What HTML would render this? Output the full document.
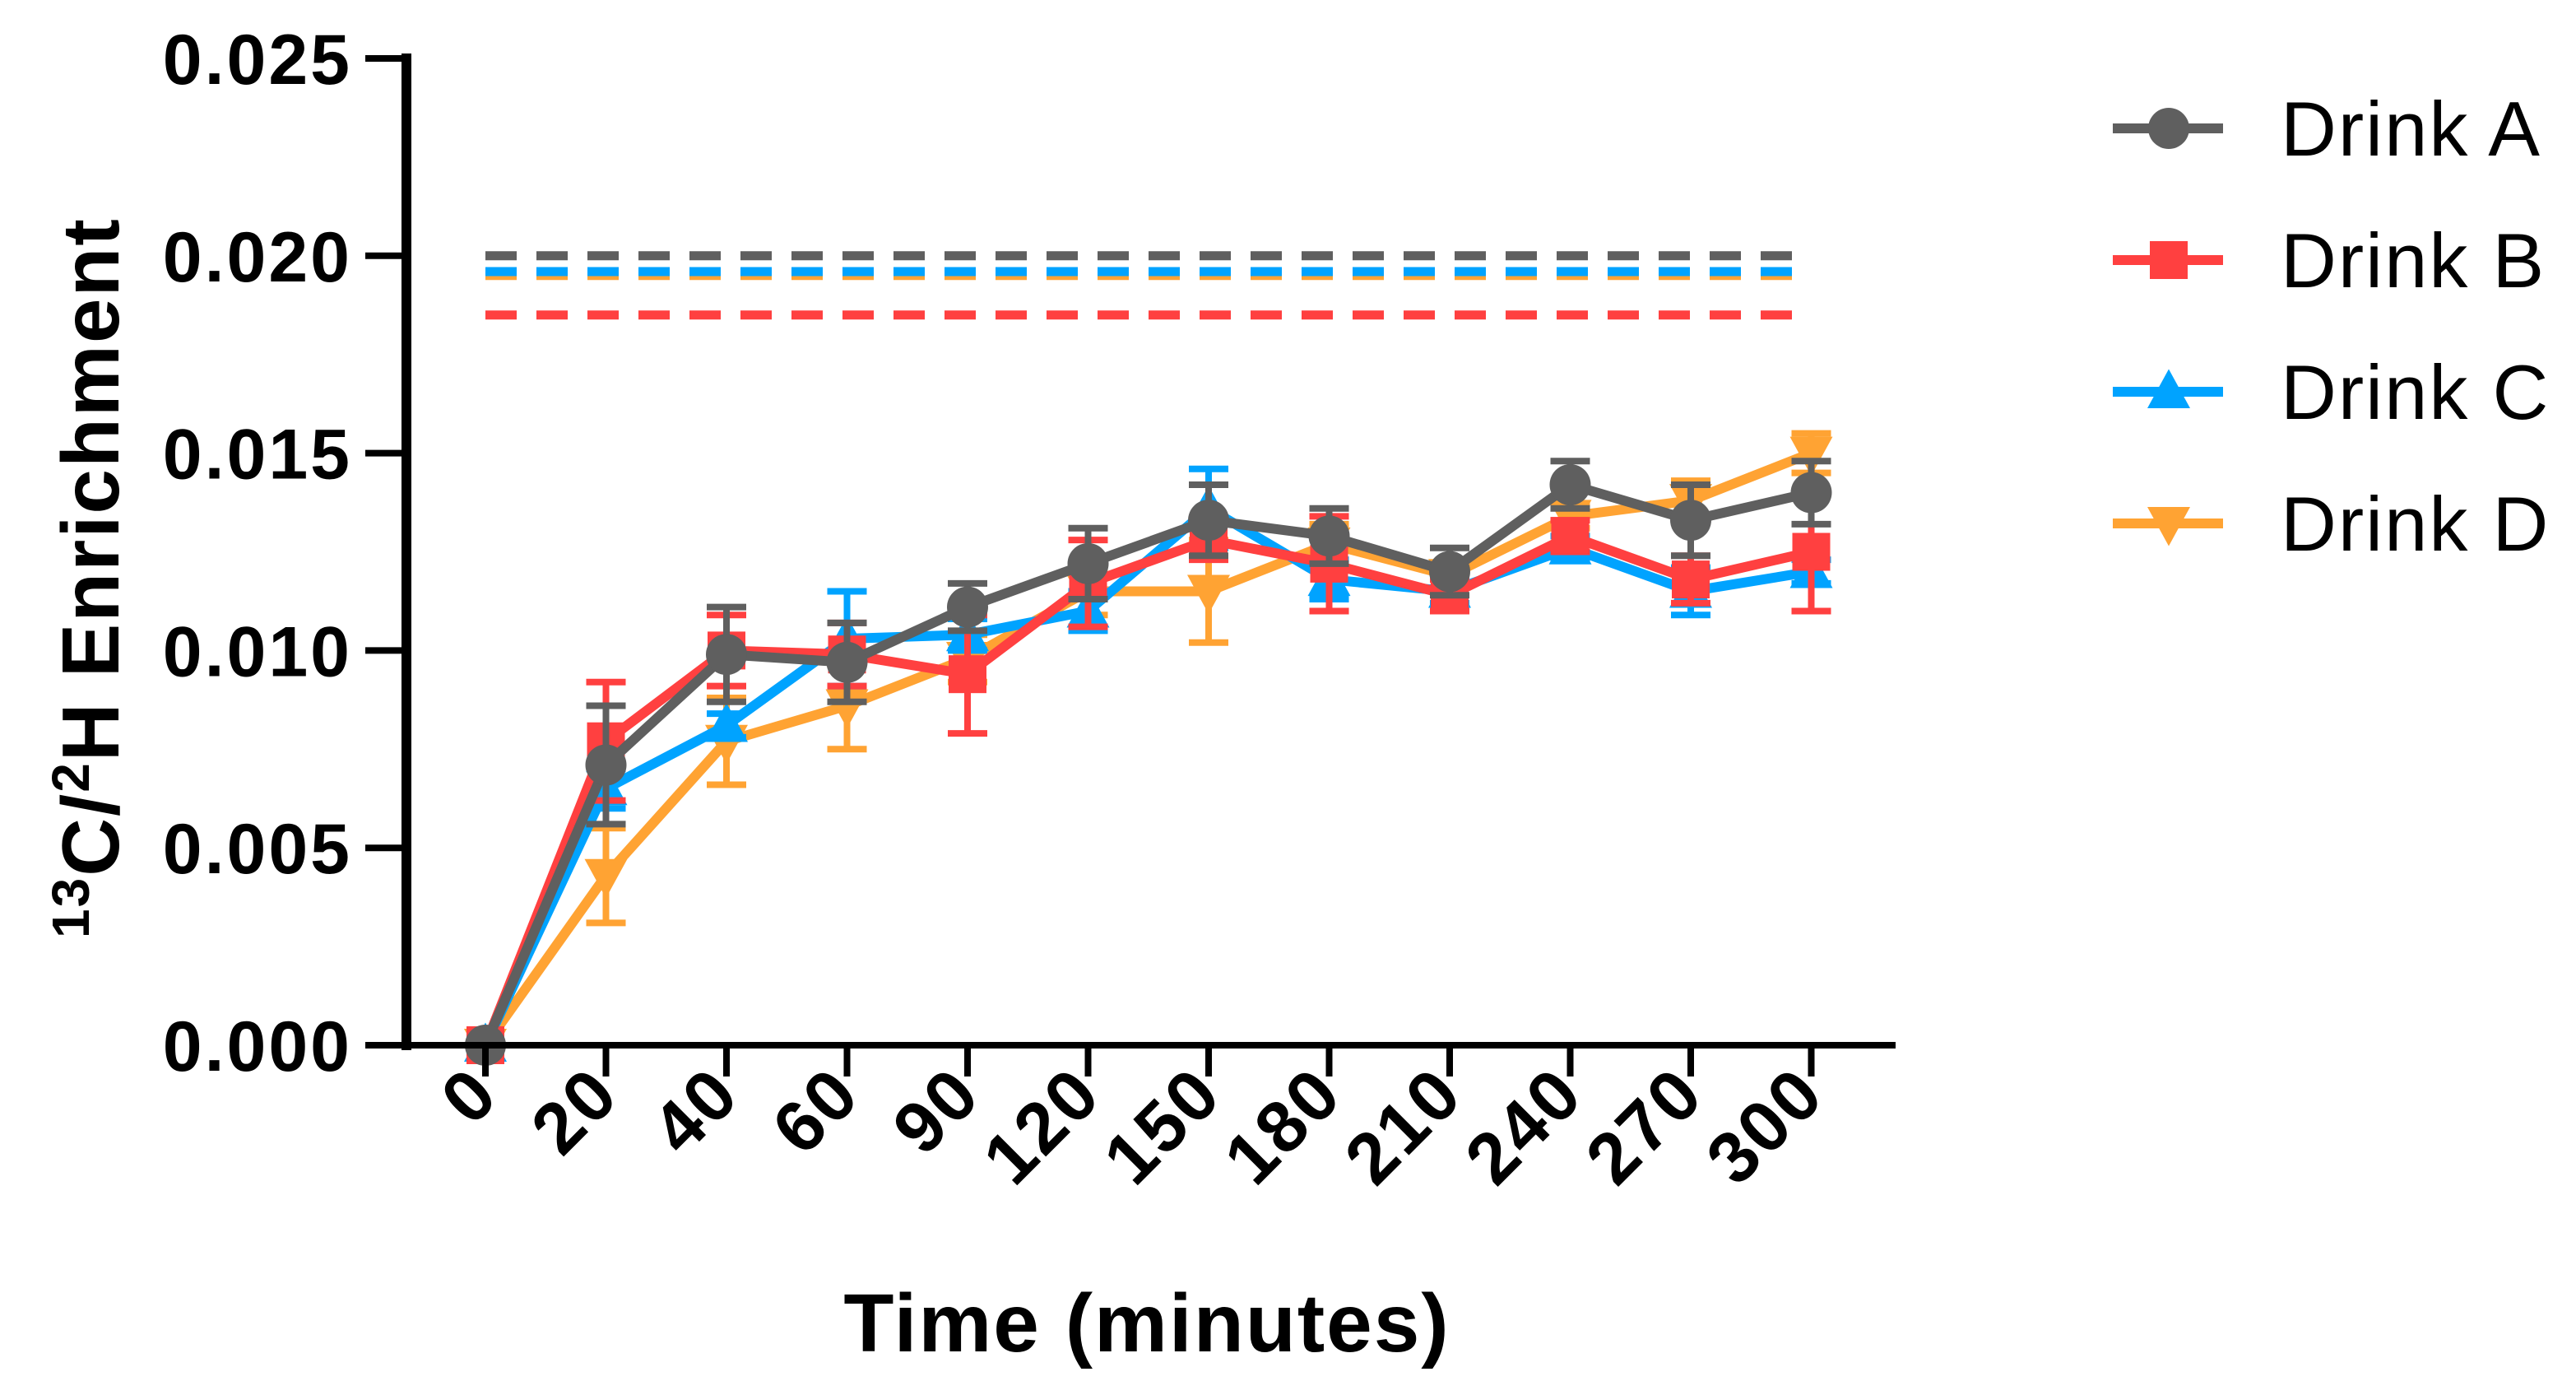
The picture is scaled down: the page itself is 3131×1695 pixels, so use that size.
<!DOCTYPE html>
<html><head><meta charset="utf-8"><style>
html,body{margin:0;padding:0;background:#fff;}
svg{display:block;font-family:"Liberation Sans",Arial,sans-serif;}
</style></head><body>
<svg id="chart" width="3131" height="1695" viewBox="0 0 3131 1695" xmlns="http://www.w3.org/2000/svg">
<g id="dashes"></g>
<g id="series"></g>
<g id="axes"></g>
<g id="legend"></g>
<text x="1394" y="1642" font-size="100" font-weight="bold" text-anchor="middle" letter-spacing="2">Time (minutes)</text>
<text transform="translate(144,702) rotate(-90)" font-size="98" font-weight="bold" text-anchor="middle" letter-spacing="2"><tspan font-size="64" dy="-36">13</tspan><tspan dy="36">C/</tspan><tspan font-size="64" dy="-36">2</tspan><tspan dy="36">H Enrichment</tspan></text>
</svg>
<script>
const categories=["0","20","40","60","90","120","150","180","210","240","270","300"];
const yTicks=[0,0.005,0.010,0.015,0.020,0.025];
const yTickLabels=["0.000","0.005","0.010","0.015","0.020","0.025"];
const seriesNames=["Drink A","Drink B","Drink C","Drink D"];
const drinkA=[0,0.0071,0.0099,0.0097,0.0111,0.0122,0.0133,0.0129,0.0120,0.0142,0.0133,0.0140];
const drinkAErr=[0,0.0015,0.0012,0.0010,0.0006,0.0009,0.0009,0.0007,0.0006,0.0006,0.0009,0.0008];
const drinkB=[0,0.0077,0.0100,0.0099,0.0094,0.0117,0.0128,0.0122,0.0114,0.0129,0.0118,0.0125];
const drinkBErr=[0,0.0015,0.0009,0.0008,0.0015,0.0011,0.0005,0.0012,0.0004,0.0004,0.0006,0.0015];
const drinkC=[0,0.0065,0.0081,0.0103,0.0104,0.0110,0.0136,0.0118,0.0115,0.0126,0.0115,0.0120];
const drinkCErr=[0,0.0005,0.0003,0.0012,0.0004,0.0005,0.0010,0.0005,0.0003,0.0003,0.0006,0.0003];
const drinkD=[0,0.0043,0.0077,0.0086,0.0098,0.0115,0.0115,0.0127,0.0119,0.0134,0.0138,0.0150];
const drinkDErr=[0,0.0012,0.0011,0.0011,0.0006,0.0006,0.0013,0.0005,0.0003,0.0003,0.0005,0.0005];
const refLevels=[0.0200,0.0185,0.0196,0.0195];

const NS="http://www.w3.org/2000/svg";
const colors=["#5f5f5f","#ff4040","#00a3ff","#ffa333"];
const markers=["circle","square","up","down"];
const X0=590,DX=146.5,Y0=1270,Y1=71,YMAX=0.025;
function xs(i){return X0+i*DX;}
function ys(v){return Y0-(v/YMAX)*(Y0-Y1);}
function mk(tag,attrs,parent){const e=document.createElementNS(NS,tag);for(const k in attrs)e.setAttribute(k,attrs[k]);parent.appendChild(e);return e;}
const dashG=document.getElementById('dashes'),serG=document.getElementById('series'),axG=document.getElementById('axes'),legG=document.getElementById('legend');

[3,1,2,0].forEach(s=>{
  const l=mk('line',{x1:xs(0),x2:xs(categories.length-1),y1:ys(refLevels[s]),y2:ys(refLevels[s]),stroke:colors[s],'stroke-width':11,'stroke-dasharray':'38 24'},dashG);
  
  
});

function marker(type,x,y,c,parent,sz){
  let e;
  if(type==='circle')e=mk('circle',{cx:x,cy:y,r:sz*0.5,fill:c},parent);
  else if(type==='square')e=mk('rect',{x:x-sz*0.46,y:y-sz*0.46,width:sz*0.92,height:sz*0.92,fill:c},parent);
  else if(type==='up')e=mk('polygon',{points:`${x},${y-sz*0.55} ${x-sz*0.52},${y+sz*0.4} ${x+sz*0.52},${y+sz*0.4}`,fill:c},parent);
  else e=mk('polygon',{points:`${x},${y+sz*0.55} ${x-sz*0.52},${y-sz*0.4} ${x+sz*0.52},${y-sz*0.4}`,fill:c},parent);
  return e;
}

const data=[drinkA,drinkB,drinkC,drinkD],errs=[drinkAErr,drinkBErr,drinkCErr,drinkDErr];
[3,2,1,0].forEach(s=>{
  const g=mk('g',{},serG);
  
  
  data[s].forEach((v,i)=>{
    const e=errs[s][i];if(!e)return;
    const x=xs(i);
    const eb=mk('path',{d:`M${x},${ys(v-e)}V${ys(v+e)}M${x-24},${ys(v-e)}H${x+24}M${x-24},${ys(v+e)}H${x+24}`,stroke:colors[s],'stroke-width':8,fill:'none'},g);
    
    
  });
  const pl=mk('polyline',{points:data[s].map((v,i)=>xs(i)+','+ys(v)).join(' '),stroke:colors[s],'stroke-width':12,fill:'none','stroke-linejoin':'miter'},g);
  
  
  data[s].forEach((v,i)=>{
    const m=marker(markers[s],xs(i),ys(v),colors[s],g,50);
    
    
  });
});

const ya=mk('line',{x1:494,x2:494,y1:Y1-6,y2:Y0+6,stroke:'#000','stroke-width':12},axG);


const xa=mk('line',{x1:488,x2:2304,y1:Y0,y2:Y0,stroke:'#000','stroke-width':8},axG);


yTicks.forEach((v,i)=>{
  const t=mk('line',{x1:444,x2:494,y1:ys(v),y2:ys(v),stroke:'#000','stroke-width':8},axG);
  
  
  const tx=mk('text',{x:428,y:ys(v)+31,'font-size':86,'font-weight':'bold','text-anchor':'end','letter-spacing':3},axG);
  tx.textContent=yTickLabels[i];
  
  
});
categories.forEach((c,i)=>{
  const x=xs(i);
  const t=mk('line',{x1:x,x2:x,y1:Y0,y2:Y0+38,stroke:'#000','stroke-width':8},axG);
  
  
  const tx=mk('text',{transform:`translate(${x+20},${Y0+64}) rotate(-45)`,'font-size':88,'font-weight':'bold','text-anchor':'end','letter-spacing':3},axG);
  tx.textContent=c;
  
  
});

seriesNames.forEach((n,s)=>{
  const y=156+s*160;
  const g=mk('g',{},legG);
  
  
  mk('line',{x1:2568,x2:2702,y1:y,y2:y,stroke:colors[s],'stroke-width':12},g);
  marker(markers[s],2636,y,colors[s],g,50);
  const t=mk('text',{x:2772,y:y+33,'font-size':94,'letter-spacing':2},g);
  t.textContent=n;
});
</script>
</body></html>
